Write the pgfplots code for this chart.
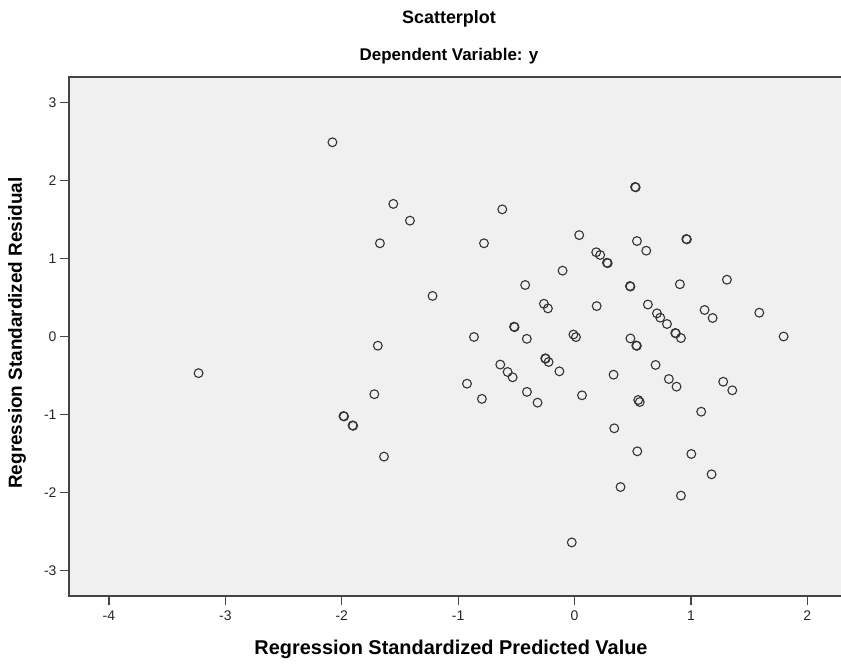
\documentclass[border=0pt]{standalone}
\usepackage{fontspec}
\setmainfont{Liberation Sans}
\usepackage{pgfplots}
\pgfplotsset{compat=1.18}
\definecolor{plotbg}{HTML}{F0F0F0}
\definecolor{frame}{HTML}{444444}
\definecolor{marker}{HTML}{333333}

\begin{document}
\begin{tikzpicture}
    \path[use as bounding box] (0,0) rectangle (841bp,667bp);

    \begin{axis}[
        at={(69bp,71bp)}, anchor=south west,
        scale only axis,
        width=772bp, height=519bp,
        xmin=-4.343, xmax=2.289,
        ymin=-3.327, ymax=3.327,
        axis background/.style={fill=plotbg},
        axis line style={draw=none},
        xtick={-4,-3,-2,-1,0,1,2},
        ytick={-3,-2,-1,0,1,2,3},
        xtick pos=bottom, ytick pos=left,
        tick align=outside,
        major tick length=9bp,
        tick style={line width=1.2bp, color=frame},
        ticklabel style={font=\fontsize{14}{16}\selectfont, text=black!85},
        xticklabel style={yshift=-2bp},
        /pgf/number format/assume math mode=true,
        clip=false,
    ]

    \addplot[
        only marks,
        mark=o,
        mark size=4.4bp,
        mark options={line width=1.1bp, draw=marker},
    ] table {
        x y
        -3.230 -0.470
        -2.080 2.490
        -1.557 1.700
        -1.414 1.485
        -1.672 1.195
        -0.621 1.630
        -0.778 1.195
        0.040 1.300
        0.186 1.080
        0.220 1.045
        0.278 0.946
        0.285 0.940
        -0.103 0.844
        -1.220 0.520
        -0.424 0.660
        -0.263 0.420
        -0.229 0.360
        0.190 0.390
        -0.520 0.126
        -0.515 0.120
        -0.864 -0.006
        -0.410 -0.030
        -0.010 0.025
        0.012 -0.008
        0.520 1.917
        0.525 1.912
        0.536 1.224
        0.616 1.100
        0.960 1.250
        0.965 1.245
        0.476 0.647
        0.480 0.640
        0.905 0.670
        1.309 0.728
        0.630 0.410
        0.708 0.297
        0.736 0.241
        0.794 0.160
        1.117 0.340
        1.186 0.237
        1.587 0.305
        0.480 -0.025
        0.865 0.045
        0.870 0.040
        0.914 -0.020
        1.796 0.000
        0.530 -0.115
        0.535 -0.120
        -1.690 -0.118
        -1.720 -0.740
        -1.985 -1.020
        -1.980 -1.025
        -1.907 -1.140
        -1.902 -1.145
        -1.637 -1.540
        -0.638 -0.360
        -0.575 -0.455
        -0.532 -0.523
        -0.252 -0.280
        -0.248 -0.285
        -0.223 -0.327
        -0.130 -0.447
        -0.924 -0.605
        -0.796 -0.800
        -0.409 -0.710
        -0.318 -0.848
        0.064 -0.754
        -0.024 -2.640
        0.696 -0.365
        0.335 -0.490
        0.810 -0.545
        0.876 -0.643
        1.277 -0.580
        1.355 -0.690
        0.547 -0.814
        0.560 -0.840
        1.088 -0.964
        0.341 -1.177
        0.539 -1.472
        1.003 -1.506
        1.177 -1.767
        0.395 -1.930
        0.914 -2.040
    };

    % frame: left, bottom and top only (right edge is cut off)
    \draw[line width=1.3bp, frame]
        (rel axis cs:1,1) -- (rel axis cs:0,1) -- (rel axis cs:0,0) -- (rel axis cs:1,0);
    \end{axis}

    \node[font=\bfseries\fontsize{18}{22}\selectfont] at (449bp,648bp) {Scatterplot};
    \node[font=\bfseries\fontsize{17}{22}\selectfont] at (449bp,611bp) {Dependent Variable: y};
    \node[font=\bfseries\fontsize{20}{22}\selectfont] at (451bp,18bp) {Regression Standardized Predicted Value};
    \node[font=\bfseries\fontsize{19}{22}\selectfont, rotate=90] at (17bp,334bp) {Regression Standardized Residual};
\end{tikzpicture}
\end{document}
